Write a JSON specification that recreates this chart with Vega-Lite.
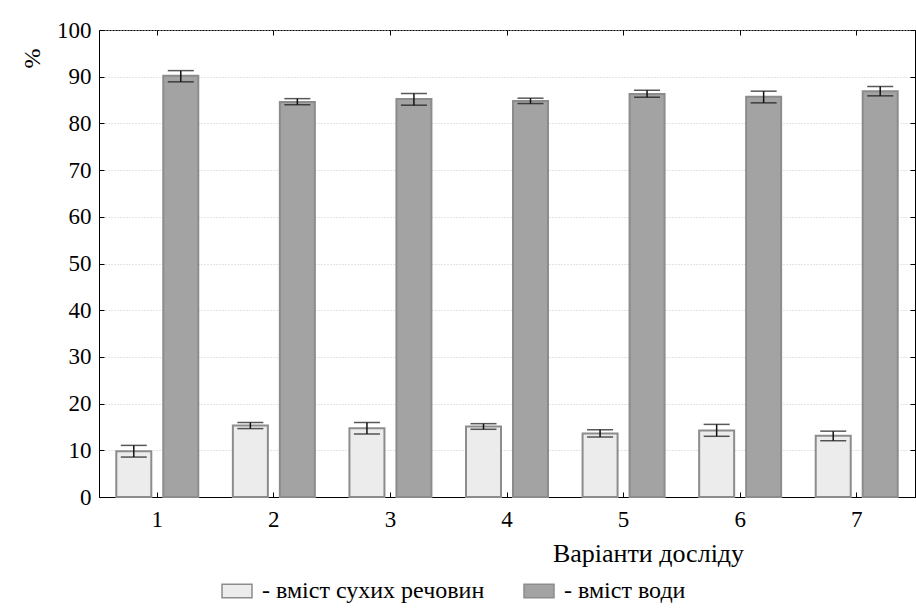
{
  "$schema": "https://vega.github.io/schema/vega-lite/v6.json",
  "width": 816,
  "height": 467,
  "autosize": {"type": "none"},
  "padding": {"left": 99, "top": 30, "right": 1, "bottom": 115},
  "background": "white",
  "config": {
    "font": "Liberation Serif",
    "view": {"stroke": "#000", "strokeWidth": 1},
    "axis": {
      "labelFont": "Liberation Serif",
      "titleFont": "Liberation Serif",
      "labelColor": "#000",
      "titleColor": "#000",
      "domainColor": "#000",
      "tickColor": "#000",
      "titleFontWeight": "normal"
    },
    "legend": {"labelFont": "Liberation Serif", "labelColor": "#000"}
  },
  "data": {
    "values": [
      {"variant": "1", "series": "вміст сухих речовин", "value": 9.8, "lo": 8.55, "hi": 11.05},
      {"variant": "2", "series": "вміст сухих речовин", "value": 15.3, "lo": 14.65, "hi": 15.95},
      {"variant": "3", "series": "вміст сухих речовин", "value": 14.7, "lo": 13.5, "hi": 15.95},
      {"variant": "4", "series": "вміст сухих речовин", "value": 15.1, "lo": 14.5, "hi": 15.7},
      {"variant": "5", "series": "вміст сухих речовин", "value": 13.6, "lo": 12.85, "hi": 14.4},
      {"variant": "6", "series": "вміст сухих речовин", "value": 14.25, "lo": 13.0, "hi": 15.55},
      {"variant": "7", "series": "вміст сухих речовин", "value": 13.1, "lo": 12.05, "hi": 14.1},
      {"variant": "1", "series": "вміст води", "value": 90.2, "lo": 88.9, "hi": 91.3},
      {"variant": "2", "series": "вміст води", "value": 84.6, "lo": 84.0, "hi": 85.3},
      {"variant": "3", "series": "вміст води", "value": 85.2, "lo": 83.9, "hi": 86.4},
      {"variant": "4", "series": "вміст води", "value": 84.8, "lo": 84.25, "hi": 85.4},
      {"variant": "5", "series": "вміст води", "value": 86.3, "lo": 85.6, "hi": 87.1},
      {"variant": "6", "series": "вміст води", "value": 85.7, "lo": 84.4, "hi": 86.9},
      {"variant": "7", "series": "вміст води", "value": 86.9, "lo": 85.9, "hi": 87.9}
    ]
  },
  "layer": [
    {
      "mark": {"type": "bar", "stroke": "#8c8c8c", "strokeWidth": 2},
      "encoding": {
        "x": {
          "field": "variant",
          "type": "nominal",
          "scale": {"paddingInner": 0, "paddingOuter": 0},
          "axis": {
            "orient": "bottom",
            "labelAngle": 0,
            "labelFontSize": 23,
            "labelPadding": 16,
            "tickSize": -5,
            "bandPosition": 0.5,
            "grid": false,
            "title": "Варіанти досліду",
            "titleFontSize": 26,
            "titleX": 549,
            "titleY": 64,
            "titleAlign": "center",
            "titleBaseline": "alphabetic"
          }
        },
        "xOffset": {
          "field": "series",
          "type": "nominal",
          "scale": {"domain": ["вміст сухих речовин", "вміст води"], "paddingInner": 0.255, "paddingOuter": 0.368}
        },
        "y": {
          "field": "value",
          "type": "quantitative",
          "scale": {"domain": [0, 100], "nice": false},
          "axis": {
            "orient": "left",
            "values": [0, 10, 20, 30, 40, 50, 60, 70, 80, 90, 100],
            "labelFontSize": 23,
            "labelPadding": 13,
            "tickSize": -5,
            "grid": true,
            "gridColor": "#c8c8c8",
            "gridDash": [1, 2],
            "title": "%",
            "titleFontSize": 24,
            "titleX": -67,
            "titleY": 28,
            "titleAlign": "center",
            "titleBaseline": "middle"
          }
        },
        "fill": {
          "field": "series",
          "type": "nominal",
          "scale": {"domain": ["вміст сухих речовин", "вміст води"], "range": ["#ececec", "#a3a3a3"]},
          "legend": {
            "orient": "none",
            "legendX": 122,
            "legendY": 545,
            "direction": "horizontal",
            "title": null,
            "padding": 0,
            "labelExpr": "'- ' + datum.label",
            "labelFontSize": 24,
            "labelOffset": 9,
            "labelLimit": 400,
            "columnPadding": 36,
            "symbolType": "M-1,-0.45L1,-0.45L1,0.45L-1,0.45Z",
            "symbolSize": 900,
            "symbolStrokeColor": "#8c8c8c",
            "symbolStrokeWidth": 1.5,
            "symbolOpacity": 1
          }
        }
      }
    },
    {
      "mark": {"type": "rule", "color": "#111", "strokeWidth": 1.5},
      "encoding": {
        "x": {"field": "variant", "type": "nominal", "axis": null},
        "xOffset": {"field": "series", "type": "nominal"},
        "y": {"field": "lo", "type": "quantitative", "axis": null},
        "y2": {"field": "hi"}
      }
    },
    {
      "mark": {"type": "tick", "color": "#111", "size": 26, "thickness": 1.5},
      "encoding": {
        "x": {"field": "variant", "type": "nominal", "axis": null},
        "xOffset": {"field": "series", "type": "nominal"},
        "y": {"field": "lo", "type": "quantitative", "axis": null}
      }
    },
    {
      "mark": {"type": "tick", "color": "#111", "size": 26, "thickness": 1.5},
      "encoding": {
        "x": {
          "field": "variant",
          "type": "nominal",
          "axis": {"orient": "top", "labels": false, "domain": false, "tickSize": -5, "bandPosition": 0.5, "grid": false, "title": null}
        },
        "xOffset": {"field": "series", "type": "nominal"},
        "y": {
          "field": "hi",
          "type": "quantitative",
          "axis": {"orient": "right", "labels": false, "domain": false, "tickSize": -5, "grid": false, "title": null, "values": [0, 10, 20, 30, 40, 50, 60, 70, 80, 90, 100]}
        }
      }
    }
  ],
  "resolve": {"axis": {"x": "independent", "y": "independent"}}
}
